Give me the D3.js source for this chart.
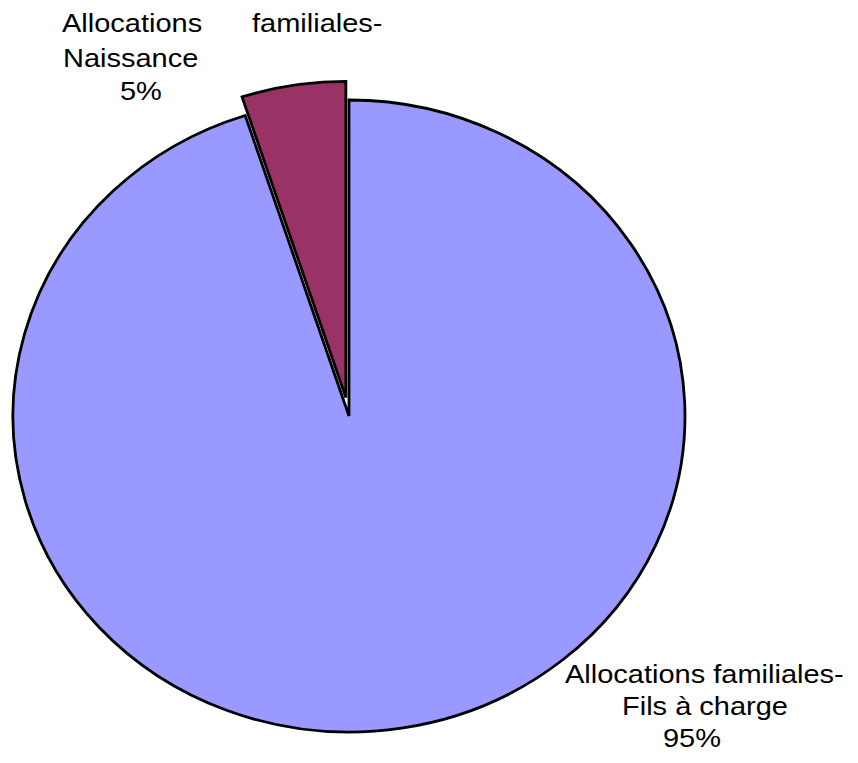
<!DOCTYPE html>
<html>
<head>
<meta charset="utf-8">
<script src="https://cdn.jsdelivr.net/npm/d3@7"></script>
<style>
  body { margin: 0; background: #fff; }
  text { font-family: "Liberation Sans", Arial, sans-serif; font-size: 25px; fill: #000; }
</style>
</head>
<body>
<div id="chart"></div>
<script>
// shares of family allowances
var categories = ["Allocations familiales-Fils à charge", "Allocations familiales-Naissance"];
var values = [95, 5];
var percentLabels = ["95%", "5%"];
var colors = ["#9999ff", "#993366"];

// label lines, as they wrap on the page
var labelLines = [
    [["Allocations familiales-"], ["Fils à charge"], ["95%"]],
    [["Allocations", "familiales-"], ["Naissance"], ["5%"]]
];

var width = 858, height = 763;
var cx = 349, cy = 416, rx = 336, ry = 316;
var explode = 20;

var svg = d3.select("#chart").append("svg")
    .attr("width", width)
    .attr("height", height);

var pie = d3.pie().sort(null).value(function(d) { return d; });
var arc = d3.arc().innerRadius(0).outerRadius(rx);

var g = svg.append("g")
    .attr("transform", "translate(" + cx + "," + cy + ") scale(1," + (ry / rx) + ")");

g.selectAll("path.slice")
    .data(pie(values))
    .enter().append("path")
    .attr("class", "slice")
    .attr("d", arc)
    .attr("fill", function(d, i) { return colors[i]; })
    .attr("stroke", "#000")
    .attr("stroke-width", 2.8)
    .attr("stroke-linejoin", "miter")
    .attr("vector-effect", "non-scaling-stroke")
    .attr("transform", function(d, i) {
        if (i !== 1) return null;
        var mid = (d.startAngle + d.endAngle) / 2;
        return "translate(" + (Math.sin(mid) * explode) + "," + (-Math.cos(mid) * explode) + ")";
    });

// text is drawn a little wide, like the rest of the figure
var stretch = 1.16;
// [x, baseline] for each word run of each line
var labelPos = [
    [[[565, 683]], [[622, 715]], [[663, 747]]],
    [[[62, 32], [252, 32]], [[63, 67]], [[120, 100]]]
];

labelLines.forEach(function(lines, si) {
    lines.forEach(function(words, li) {
        words.forEach(function(w, wi) {
            var p = labelPos[si][li][wi];
            svg.append("text")
                .attr("transform", "translate(" + p[0] + "," + p[1] + ") scale(" + stretch + ",1)")
                .text(w);
        });
    });
});
</script>
</body>
</html>
